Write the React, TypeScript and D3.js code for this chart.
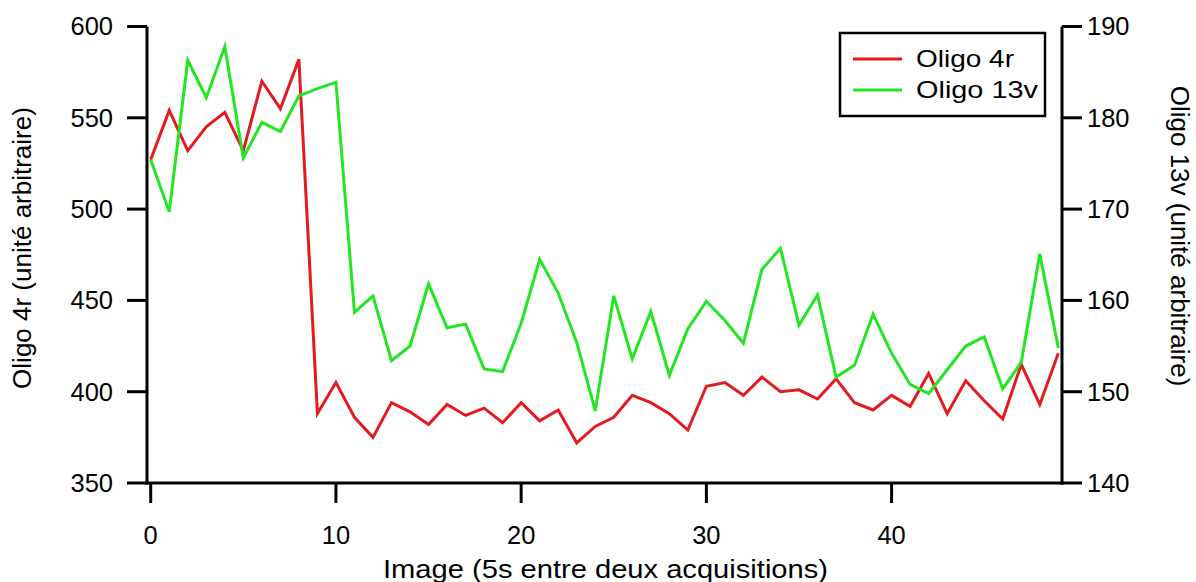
import React from "react";
import * as d3 from "d3";

const images: number[] = Array.from({ length: 50 }, (_, i) => i);
const oligo4r: number[] = [
  527, 554, 532, 545, 553, 532, 570, 555, 582, 388,
  405, 386, 375, 394, 389, 382, 393, 387, 391, 383,
  394, 384, 390, 372, 381, 386, 398, 394, 388, 379,
  403, 405, 398, 408, 400, 401, 396, 407, 394, 390,
  398, 392, 410, 388, 406, 395, 385, 415, 393, 421,
];
const oligo13v: number[] = [
  175.4, 169.7, 186.3, 182.2, 187.8, 175.6, 179.5, 178.5, 182.4, 183.2,
  183.9, 158.7, 160.5, 153.4, 155.0, 161.8, 157.0, 157.4, 152.5, 152.2,
  157.5, 164.5, 160.8, 155.4, 147.9, 160.5, 153.6, 158.8, 151.8, 156.9,
  159.9, 157.8, 155.3, 163.4, 165.7, 157.3, 160.6, 151.6, 152.9, 158.5,
  154.2, 150.8, 149.8, 152.4, 155.0, 156.0, 150.3, 153.2, 165.1, 154.8,
];
const xTicks: number[] = [0, 10, 20, 30, 40];
const leftTicks: number[] = [350, 400, 450, 500, 550, 600];
const rightTicks: number[] = [140, 150, 160, 170, 180, 190];
const seriesNames: string[] = ["Oligo 4r", "Oligo 13v"];

const RED = "#e41b1e";
const GREEN = "#22e622";
const FONT = "'Liberation Sans', Arial, sans-serif";

export default function App() {
  const left = 147;
  const right = 1062;
  const top = 26.5;
  const bottom = 483;

  const x = d3.scaleLinear().domain([-0.2, 49.2]).range([left, right]);
  const yL = d3.scaleLinear().domain([350, 600]).range([bottom, top]);
  const yR = d3.scaleLinear().domain([140, 190]).range([bottom, top]);

  const lineL = d3
    .line<number>()
    .x((_, i) => x(images[i]))
    .y((d) => yL(d));
  const lineR = d3
    .line<number>()
    .x((_, i) => x(images[i]))
    .y((d) => yR(d));

  const tickLen = 20;
  const fs = 25.5;

  return (
    <svg
      width={1196}
      height={582}
      style={{ position: "absolute", left: 0, top: 0, background: "#fff" }}
      fontFamily={FONT}
    >
      <rect x={0} y={0} width={1196} height={582} fill="#fff" />
      {/* data */}
      <path d={lineL(oligo4r) || ""} fill="none" stroke={RED} strokeWidth={3} strokeLinejoin="miter" />
      <path d={lineR(oligo13v) || ""} fill="none" stroke={GREEN} strokeWidth={3} strokeLinejoin="miter" />

      {/* axes */}
      <g stroke="#000" strokeWidth={3} fill="none">
        <line x1={left} x2={left} y1={top} y2={bottom + 1.5} />
        <line x1={right} x2={right} y1={top} y2={bottom + 1.5} />
        <line x1={left - 1.5} x2={right + 1.5} y1={bottom} y2={bottom} />
        {leftTicks.map((t) => (
          <line key={"lt" + t} x1={left - tickLen} x2={left} y1={yL(t)} y2={yL(t)} />
        ))}
        {rightTicks.map((t) => (
          <line key={"rt" + t} x1={right} x2={right + tickLen} y1={yR(t)} y2={yR(t)} />
        ))}
        {xTicks.map((t) => (
          <line key={"xt" + t} x1={x(t)} x2={x(t)} y1={bottom} y2={bottom + tickLen} />
        ))}
      </g>

      <g fontSize={fs} fill="#000">
        {leftTicks.map((t) => (
          <text key={"ll" + t} x={113} y={yL(t)} dy="0.35em" textAnchor="end">
            {t}
          </text>
        ))}
        {rightTicks.map((t) => (
          <text key={"rl" + t} x={1087} y={yR(t)} dy="0.35em" textAnchor="start">
            {t}
          </text>
        ))}
        {xTicks.map((t) => (
          <text key={"xl" + t} x={x(t)} y={544} textAnchor="middle">
            {t}
          </text>
        ))}
        <text
          x={605.5}
          y={578}
          textAnchor="middle"
          textLength={445}
          lengthAdjust="spacingAndGlyphs"
        >
          Image (5s entre deux acquisitions)
        </text>
        <text
          transform="translate(31,248) rotate(-90)"
          textAnchor="middle"
          fontSize={26}
        >
          Oligo 4r (unité arbitraire)
        </text>
        <text
          transform="translate(1171,236) rotate(90)"
          textAnchor="middle"
          fontSize={26}
        >
          Oligo 13v (unité arbitraire)
        </text>
      </g>

      {/* legend */}
      <g>
        <rect x={840} y={33} width={205} height={83} fill="#fff" stroke="#000" strokeWidth={2.5} />
        <line x1={853} x2={902} y1={59} y2={59} stroke={RED} strokeWidth={3} />
        <line x1={853} x2={902} y1={90} y2={90} stroke={GREEN} strokeWidth={3} />
        <text x={916} y={59} dy="0.35em" fontSize={24} textLength={98} lengthAdjust="spacingAndGlyphs">
          {seriesNames[0]}
        </text>
        <text x={916} y={90} dy="0.35em" fontSize={24} textLength={122} lengthAdjust="spacingAndGlyphs">
          {seriesNames[1]}
        </text>
      </g>
    </svg>
  );
}
